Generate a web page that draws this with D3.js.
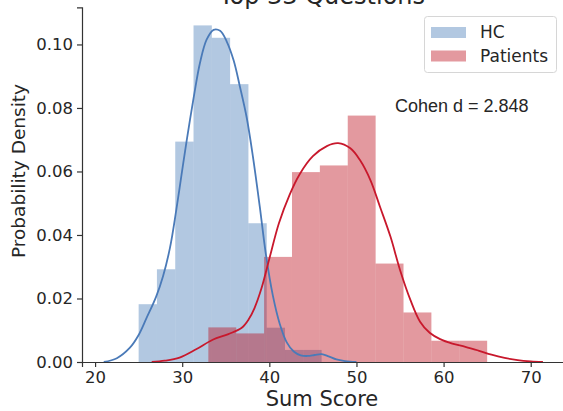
<!DOCTYPE html>
<html>
<head>
<meta charset="utf-8">
<script src="https://cdn.jsdelivr.net/npm/d3@7"></script>
<style>
  body { margin: 0; background: #fff; }
  text { font-family: "DejaVu Sans", sans-serif; fill: #262626; }
</style>
</head>
<body>
<div id="plot"></div>
<script>
// Histogram bins (edges + density heights)
const hcEdges = [25, 27.1, 29.2, 31.3, 33.4, 35.5, 37.6, 39.7, 41.8, 43.9, 46.0];
const hcDensity = [0.0182, 0.0292, 0.0694, 0.1060, 0.1021, 0.0875, 0.0437, 0.0108, 0.0038, 0.0038];

const patientEdges = [33, 36.2, 39.4, 42.6, 45.8, 49, 52.2, 55.4, 58.6, 61.8, 65];
const patientDensity = [0.0109, 0.0090, 0.0331, 0.0598, 0.0619, 0.0776, 0.0310, 0.0156, 0.0067, 0.0067];

// KDE curves, [score, density] pairs
const hcKde = [
  [21.0, 0.0000], [22.5, 0.0012], [24.0, 0.0045], [25.0, 0.0085], [25.9, 0.0138],
  [27.0, 0.0205], [27.8, 0.0270], [28.6, 0.0360], [29.3, 0.0475], [29.9, 0.0585],
  [30.5, 0.0695], [31.3, 0.0830], [32.05, 0.0943], [32.8, 0.1015], [33.6, 0.1046],
  [34.35, 0.1043], [35.1, 0.1010], [35.9, 0.0950], [36.6, 0.0870], [37.4, 0.0770],
  [38.1, 0.0650], [38.9, 0.0490], [39.6, 0.0340], [40.4, 0.0210], [41.2, 0.0120],
  [42.0, 0.0062], [42.8, 0.0033], [43.6, 0.0021], [44.4, 0.0019], [45.2, 0.0022],
  [46.0, 0.0025], [46.8, 0.0018], [47.7, 0.0008], [48.7, 0.0003], [50.0, 0.0000]
];

const patientKde = [
  [26.5, 0.0000], [28.0, 0.0004], [29.7, 0.0014], [31.6, 0.0040], [33.5, 0.0070],
  [35.3, 0.0088], [36.8, 0.0107], [37.6, 0.0133], [38.3, 0.0170], [39.1, 0.0232],
  [40.0, 0.0325], [41.1, 0.0437], [42.3, 0.0525], [43.5, 0.0592], [45.0, 0.0648],
  [46.6, 0.0680], [47.9, 0.0689], [49.3, 0.0673], [50.4, 0.0636], [51.6, 0.0573],
  [52.7, 0.0489], [53.9, 0.0395], [55.0, 0.0290], [56.2, 0.0195], [57.3, 0.0127],
  [58.4, 0.0092], [59.6, 0.0072], [61.0, 0.0058], [62.5, 0.0048], [64.0, 0.0036],
  [65.5, 0.0023], [67.0, 0.0013], [68.5, 0.0006], [70.0, 0.0002], [71.4, 0.0000]
];

const xTicks = [20, 30, 40, 50, 60, 70];
const yTicks = [0, 0.02, 0.04, 0.06, 0.08, 0.10];
const seriesNames = ["HC", "Patients"];
const cohenLabel = "Cohen d = 2.848";

const width = 563, height = 411;
const blue = "#3f75b5", blueLine = "#4a7ab8";
const red = "#b8000f", redLine = "#c8182c";

const svg = d3.select("#plot")
  .append("svg")
  .attr("width", width)
  .attr("height", height);

const x = d3.scaleLinear().domain([18.5, 73.9]).range([82, 564.7]);
const y = d3.scaleLinear().domain([0, 0.1117]).range([362, 7.3]);

// Title (mostly cut off at top, as in the original)
svg.append("text")
  .attr("x", 322)
  .attr("y", 4)
  .attr("text-anchor", "middle")
  .style("font-size", "24px")
  .text("Top 33 Questions");

// bars
function drawBars(edges, dens, color) {
  svg.append("g")
    .selectAll("rect")
    .data(dens)
    .enter()
    .append("rect")
    .attr("x", (d, i) => x(edges[i]))
    .attr("width", (d, i) => x(edges[i + 1]) - x(edges[i]))
    .attr("y", d => y(d))
    .attr("height", d => y(0) - y(d))
    .attr("fill", color)
    .attr("fill-opacity", 0.4);
}
drawBars(hcEdges, hcDensity, blue);
drawBars(patientEdges, patientDensity, red);

// kde lines
const line = d3.line()
  .x(d => x(d[0]))
  .y(d => y(Math.max(0, d[1])))
  .curve(d3.curveCatmullRom.alpha(0.5));

svg.append("path").datum(hcKde)
  .attr("d", line).attr("fill", "none")
  .attr("stroke", blueLine).attr("stroke-width", 1.8);

svg.append("path").datum(patientKde)
  .attr("d", line).attr("fill", "none")
  .attr("stroke", redLine).attr("stroke-width", 1.8);

// axes
const xAxis = svg.append("g")
  .attr("transform", `translate(0, ${y(0)})`)
  .call(d3.axisBottom(x).tickValues(xTicks).tickSize(5).tickPadding(4));

const yAxis = svg.append("g")
  .attr("transform", `translate(${x.range()[0]}, 0)`)
  .call(d3.axisLeft(y).tickValues(yTicks).tickFormat(d3.format(".2f")).tickSize(5).tickPadding(4));

[xAxis, yAxis].forEach(a => {
  a.select(".domain").attr("stroke", "#333").attr("stroke-width", 1.2);
  a.selectAll(".tick line").attr("stroke", "#333").attr("stroke-width", 1.2);
  a.selectAll(".tick text")
    .style("font-family", "DejaVu Sans, sans-serif")
    .style("font-size", "16.5px")
    .attr("fill", "#262626");
});

svg.append("text")
  .attr("x", 322)
  .attr("y", 406)
  .attr("text-anchor", "middle")
  .style("font-size", "21px")
  .text("Sum Score");

svg.append("text")
  .attr("transform", "translate(25, 171) rotate(-90)")
  .attr("text-anchor", "middle")
  .style("font-size", "18.5px")
  .text("Probability Density");

// legend
const legend = svg.append("g");
legend.append("rect")
  .attr("x", 424.5).attr("y", 16.5)
  .attr("width", 132).attr("height", 56)
  .attr("rx", 3)
  .attr("fill", "#fff").attr("fill-opacity", 0.8)
  .attr("stroke", "#d6d6d6");

[blue, red].forEach((c, i) => {
  legend.append("rect")
    .attr("x", 431).attr("y", 27 + i * 23.5)
    .attr("width", 35).attr("height", 11)
    .attr("fill", c).attr("fill-opacity", 0.4);
  legend.append("text")
    .attr("x", 480).attr("y", 38 + i * 24)
    .style("font-size", "17px")
    .text(seriesNames[i]);
});

svg.append("text")
  .attr("x", 395)
  .attr("y", 112)
  .style("font-family", "Liberation Sans, Arial, sans-serif")
  .style("font-size", "18px")
  .text(cohenLabel);
</script>
</body>
</html>
